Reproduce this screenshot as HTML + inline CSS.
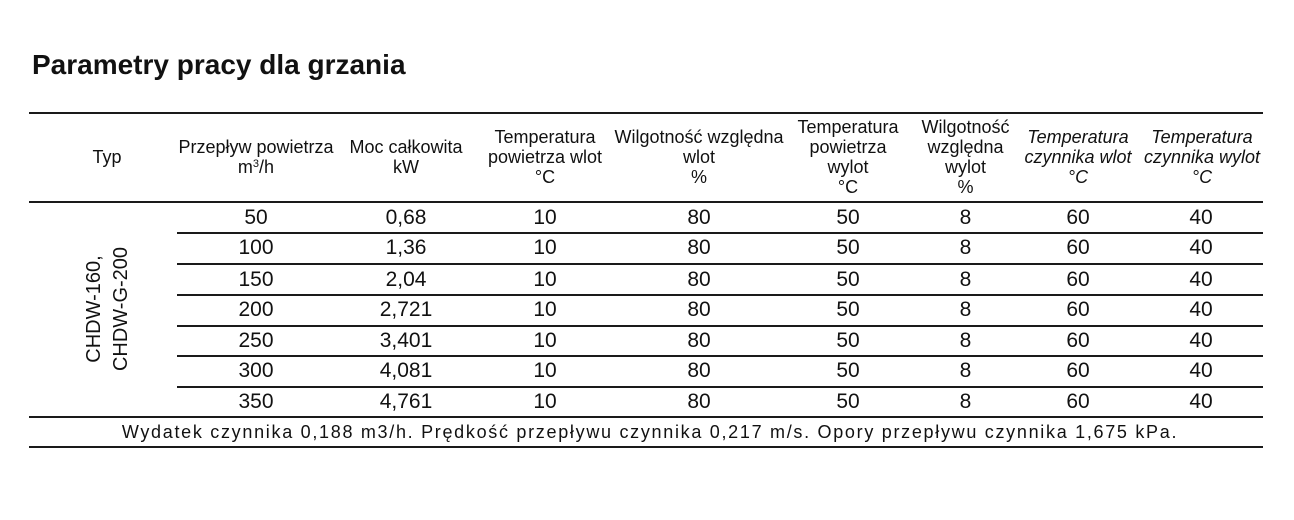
<!DOCTYPE html>
<html>
<head>
<meta charset="utf-8">
<style>
  html, body { margin:0; padding:0; background:#fff; }
  body { width:1294px; height:520px; position:relative; overflow:hidden;
         font-family:"Liberation Sans", "DejaVu Sans", sans-serif; color:#111; }
  .title { position:absolute; left:32px; top:48px; font-size:28px; font-weight:bold; line-height:34px; white-space:nowrap; color:#111; }
  .hl { position:absolute; height:1.5px; background:#1a1a1a; }
  .hd { position:absolute; top:113px; height:88px; display:flex; align-items:center; justify-content:center;
        font-size:18px; line-height:20px; white-space:nowrap; }
  .hd > div { text-align:center; }
  .it { font-style:italic; }
  .row { position:absolute; left:0; width:1294px; }
  .c { position:absolute; width:120px; text-align:center; font-size:21px; white-space:nowrap; }
  .vert { position:absolute; left:8px; top:282px; width:200px; height:54px; font-size:20px; line-height:27px;
          text-align:center; transform:rotate(-90deg); transform-origin:100px 27px; white-space:nowrap; }
  .foot { position:absolute; left:0; top:417px; width:1300px; height:30px; line-height:30px; text-align:center;
          font-size:18px; letter-spacing:1.7px; white-space:nowrap; }
  sup { font-size:11px; line-height:0; vertical-align:6px; }
</style>
</head>
<body>
<div class="title">Parametry pracy dla grzania</div>

<!-- lines -->
<div class="hl" style="left:29px;width:1234px;top:112px;"></div>
<div class="hl" style="left:29px;width:1234px;top:201px;"></div>
<div class="hl" style="left:177px;width:1086px;top:232px;"></div>
<div class="hl" style="left:177px;width:1086px;top:263px;"></div>
<div class="hl" style="left:177px;width:1086px;top:294px;"></div>
<div class="hl" style="left:177px;width:1086px;top:325px;"></div>
<div class="hl" style="left:177px;width:1086px;top:355px;"></div>
<div class="hl" style="left:177px;width:1086px;top:386px;"></div>
<div class="hl" style="left:29px;width:1234px;top:416px;"></div>
<div class="hl" style="left:29px;width:1234px;top:446px;"></div>

<!-- headers -->
<div class="hd" style="left:27px;width:160px;"><div>Typ</div></div>
<div class="hd" style="left:161px;width:190px;"><div>Przepływ powietrza<br>m<sup>3</sup>/h</div></div>
<div class="hd" style="left:336px;width:140px;"><div>Moc całkowita<br>kW</div></div>
<div class="hd" style="left:470px;width:150px;"><div>Temperatura<br>powietrza wlot<br>°C</div></div>
<div class="hd" style="left:604px;width:190px;"><div>Wilgotność względna<br>wlot<br>%</div></div>
<div class="hd" style="left:788px;width:120px;"><div>Temperatura<br>powietrza<br>wylot<br>°C</div></div>
<div class="hd" style="left:912px;width:107px;"><div>Wilgotność<br>względna<br>wylot<br>%</div></div>
<div class="hd it" style="left:1016px;width:124px;"><div>Temperatura<br>czynnika wlot<br>°C</div></div>
<div class="hd it" style="left:1136px;width:132px;"><div>Temperatura<br>czynnika wylot<br>°C</div></div>

<!-- vertical type label -->
<div class="vert">CHDW-160,<br>CHDW-G-200</div>

<!-- data rows -->
<div class="row" style="top:202px;height:31px;line-height:31px;">
  <div class="c" style="left:196px;">50</div><div class="c" style="left:346px;">0,68</div><div class="c" style="left:485px;">10</div><div class="c" style="left:639px;">80</div><div class="c" style="left:788px;">50</div><div class="c" style="left:905.5px;">8</div><div class="c" style="left:1018px;">60</div><div class="c" style="left:1141px;">40</div>
</div>
<div class="row" style="top:233.3px;height:30.7px;line-height:30.7px;">
  <div class="c" style="left:196px;">100</div><div class="c" style="left:346px;">1,36</div><div class="c" style="left:485px;">10</div><div class="c" style="left:639px;">80</div><div class="c" style="left:788px;">50</div><div class="c" style="left:905.5px;">8</div><div class="c" style="left:1018px;">60</div><div class="c" style="left:1141px;">40</div>
</div>
<div class="row" style="top:264px;height:31px;line-height:31px;">
  <div class="c" style="left:196px;">150</div><div class="c" style="left:346px;">2,04</div><div class="c" style="left:485px;">10</div><div class="c" style="left:639px;">80</div><div class="c" style="left:788px;">50</div><div class="c" style="left:905.5px;">8</div><div class="c" style="left:1018px;">60</div><div class="c" style="left:1141px;">40</div>
</div>
<div class="row" style="top:295px;height:30.7px;line-height:30.7px;">
  <div class="c" style="left:196px;">200</div><div class="c" style="left:346px;">2,721</div><div class="c" style="left:485px;">10</div><div class="c" style="left:639px;">80</div><div class="c" style="left:788px;">50</div><div class="c" style="left:905.5px;">8</div><div class="c" style="left:1018px;">60</div><div class="c" style="left:1141px;">40</div>
</div>
<div class="row" style="top:325.7px;height:30.3px;line-height:30.3px;">
  <div class="c" style="left:196px;">250</div><div class="c" style="left:346px;">3,401</div><div class="c" style="left:485px;">10</div><div class="c" style="left:639px;">80</div><div class="c" style="left:788px;">50</div><div class="c" style="left:905.5px;">8</div><div class="c" style="left:1018px;">60</div><div class="c" style="left:1141px;">40</div>
</div>
<div class="row" style="top:356px;height:30.7px;line-height:30.7px;">
  <div class="c" style="left:196px;">300</div><div class="c" style="left:346px;">4,081</div><div class="c" style="left:485px;">10</div><div class="c" style="left:639px;">80</div><div class="c" style="left:788px;">50</div><div class="c" style="left:905.5px;">8</div><div class="c" style="left:1018px;">60</div><div class="c" style="left:1141px;">40</div>
</div>
<div class="row" style="top:386.7px;height:30px;line-height:30px;">
  <div class="c" style="left:196px;">350</div><div class="c" style="left:346px;">4,761</div><div class="c" style="left:485px;">10</div><div class="c" style="left:639px;">80</div><div class="c" style="left:788px;">50</div><div class="c" style="left:905.5px;">8</div><div class="c" style="left:1018px;">60</div><div class="c" style="left:1141px;">40</div>
</div>

<!-- footer -->
<div class="foot">Wydatek czynnika 0,188 m3/h. Prędkość przepływu czynnika 0,217 m/s. Opory przepływu czynnika 1,675 kPa.</div>
</body>
</html>
